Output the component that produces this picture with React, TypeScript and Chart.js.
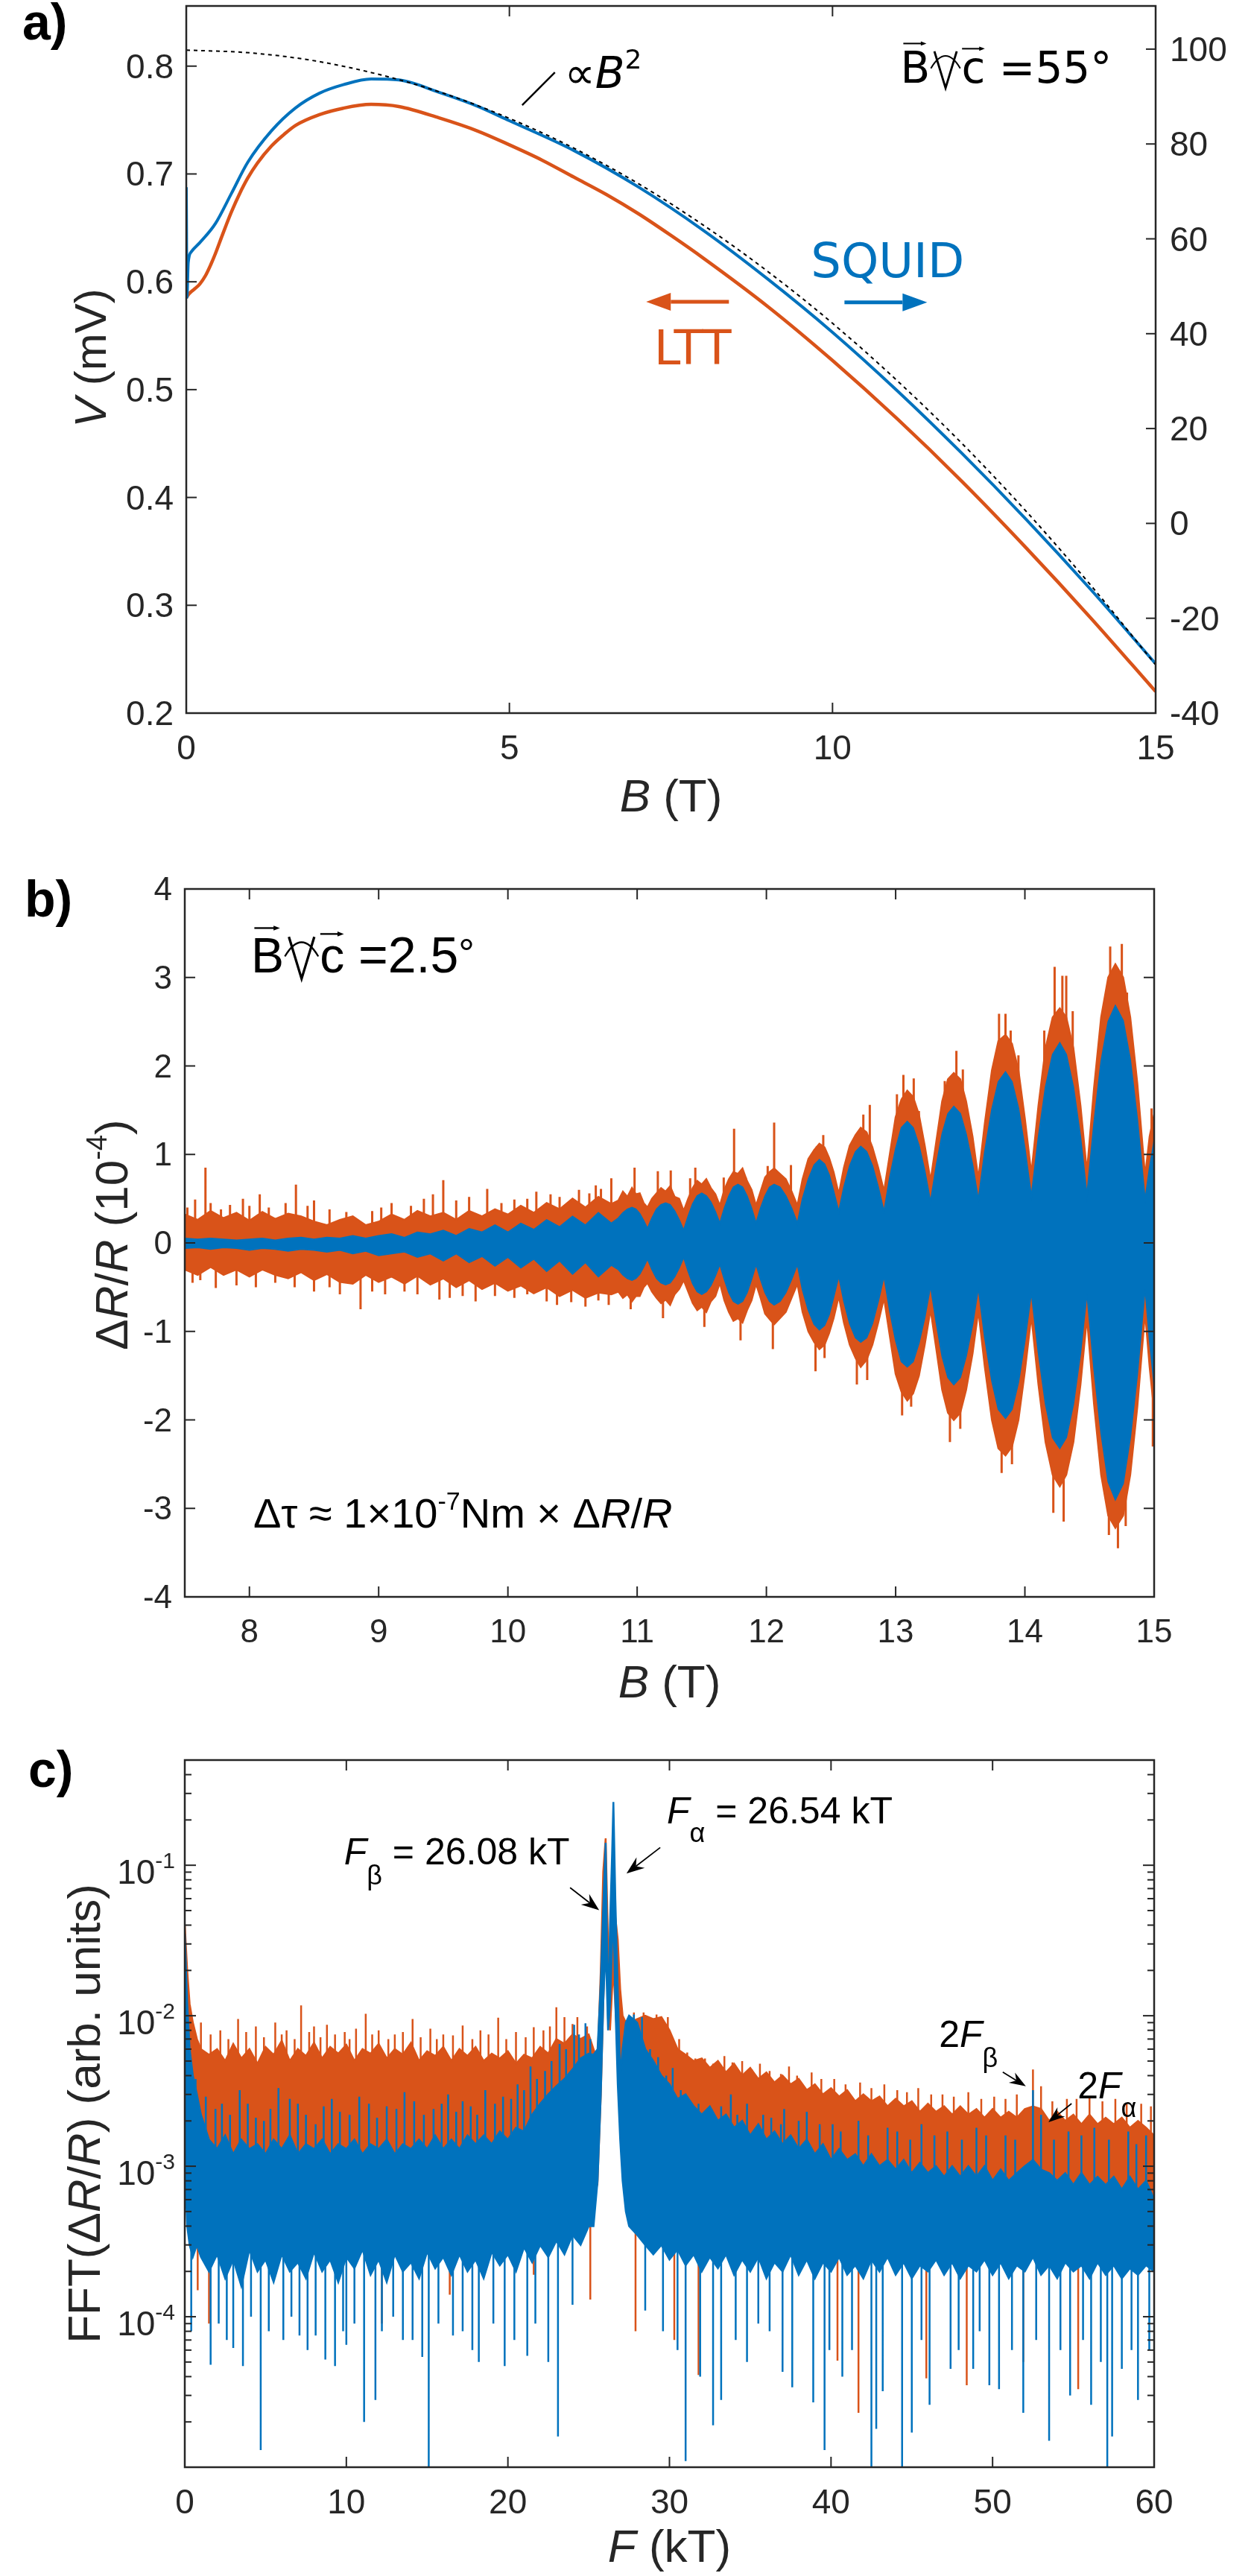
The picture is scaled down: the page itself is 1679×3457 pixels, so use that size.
import React, { useEffect, useRef } from 'react';
import { Chart, registerables } from 'chart.js';
Chart.register(...registerables);

const BLUE = '#0072BD';
const ORANGE = '#D95319';
const AXIS = '#262626';
const SANS = '"Liberation Sans", Arial, Helvetica, sans-serif';
const DEJAVU = '"DejaVu Sans", Verdana, sans-serif';
const W = 1679;

// ---------------- Panel a : V(B) ----------------
const aFieldSquid = [0, 0.01, 0.03, 0.08, 0.21, 0.45, 0.7, 0.95, 1.32, 1.69, 2.06, 2.43, 2.86, 3.29, 3.91, 4.5, 5, 6, 7, 8, 9, 10, 11, 12, 13, 14, 15];
const aSquid = [70.9, 47.7, 55.0, 57.3, 59.2, 63.2, 69.6, 76.1, 82.8, 87.6, 90.7, 92.5, 93.7, 93.5, 90.9, 88.0, 84.9, 78.6, 70.9, 61.8, 51.5, 40.3, 28.0, 14.8, 0.8, -14.0, -29.6];
const aFieldLtt = [0, 0.03, 0.08, 0.14, 0.21, 0.3, 0.38, 0.45, 0.55, 0.62, 0.7, 0.82, 0.95, 1.1, 1.32, 1.5, 1.69, 2.06, 2.43, 2.86, 3.29, 3.91, 4.5, 5, 5.5, 6, 6.5, 7, 7.5, 8, 9, 10, 11, 12, 13, 14, 15];
const aLtt = [0.585, 0.588, 0.591, 0.594, 0.598, 0.606, 0.616, 0.626, 0.642, 0.653, 0.665, 0.681, 0.696, 0.71, 0.726, 0.736, 0.745, 0.755, 0.761, 0.7645, 0.7625, 0.752, 0.74, 0.727, 0.713, 0.697, 0.681, 0.663, 0.643, 0.622, 0.577, 0.527, 0.473, 0.415, 0.353, 0.288, 0.22];
const aFieldFit = [0, 1, 2, 3, 4, 5, 6, 7, 8, 9, 10, 11, 12, 13, 14, 15];
const aFit = [99.8, 99.2, 97.5, 94.6, 90.6, 85.4, 79.1, 71.6, 62.9, 53.1, 42.2, 30.1, 16.9, 2.5, -13.1, -29.8];
const aXTicks = [0, 5, 10, 15];
const aYTicks = [0.2, 0.3, 0.4, 0.5, 0.6, 0.7, 0.8];
const aY2Ticks = [-40, -20, 0, 20, 40, 60, 80, 100];

// ---------------- Panel b : dR/R(B) ----------------
const bField = [7.5, 7.6, 7.7, 7.8, 7.9, 8.0, 8.1, 8.2, 8.3, 8.4, 8.5, 8.6, 8.7, 8.8, 8.9, 9.0, 9.1, 9.2, 9.3, 9.4, 9.5, 9.6, 9.7, 9.8, 9.9, 10.0, 10.1, 10.2, 10.3, 10.4, 10.5, 10.6, 10.7, 10.8,
  10.855, 10.89, 10.925, 10.96, 10.99, 11.02, 11.05, 11.08,
  11.115, 11.15, 11.185, 11.22, 11.255, 11.29, 11.325, 11.36,
  11.395, 11.43, 11.465, 11.5, 11.535, 11.57, 11.605, 11.64,
  11.675, 11.71, 11.745, 11.78, 11.815, 11.85, 11.885, 11.92,
  11.955, 11.99, 12.025, 12.06, 12.105, 12.15, 12.195, 12.24,
  12.28, 12.325, 12.37, 12.41, 12.45, 12.485, 12.52, 12.56,
  12.6, 12.645, 12.69, 12.73, 12.775, 12.82, 12.865, 12.91,
  12.955, 13.0, 13.045, 13.09, 13.135, 13.18, 13.225, 13.27,
  13.315, 13.36, 13.405, 13.45, 13.5, 13.545, 13.595, 13.64,
  13.69, 13.745, 13.795, 13.85, 13.9, 13.95, 14.0, 14.05,
  14.105, 14.16, 14.215, 14.27, 14.32, 14.375, 14.43, 14.48,
  14.535, 14.59, 14.645, 14.7, 14.76, 14.815, 14.87, 14.93,
  14.965, 15.0];
const bBlueTop = [0.05, 0.04, 0.05, 0.04, 0.03, 0.04, 0.05, 0.03, 0.05, 0.06, 0.04, 0.06, 0.05, 0.08, 0.05, 0.08, 0.1, 0.06, 0.12, 0.1, 0.14, 0.08, 0.16, 0.12, 0.2, 0.12, 0.22, 0.15, 0.26, 0.18, 0.3, 0.2, 0.34, 0.22,
  0.28, 0.34, 0.38, 0.40, 0.38, 0.33, 0.25, 0.16,
  0.28, 0.38, 0.43, 0.45, 0.43, 0.36, 0.26, 0.14,
  0.30, 0.44, 0.53, 0.56, 0.53, 0.46, 0.35, 0.22,
  0.39, 0.53, 0.63, 0.66, 0.63, 0.53, 0.39, 0.22,
  0.39, 0.53, 0.63, 0.66, 0.63, 0.53, 0.39, 0.22,
  0.50, 0.72, 0.88, 0.94, 0.89, 0.77, 0.58, 0.35,
  0.63, 0.87, 1.03, 1.09, 1.03, 0.87, 0.63, 0.35,
  0.74, 1.06, 1.30, 1.37, 1.30, 1.10, 0.81, 0.46,
  0.87, 1.23, 1.46, 1.54, 1.46, 1.23, 0.88, 0.48,
  1.03, 1.51, 1.82, 1.93, 1.82, 1.52, 1.06, 0.52,
  1.19, 1.76, 2.13, 2.26, 2.13, 1.76, 1.19, 0.53,
  1.35, 2.05, 2.50, 2.68, 2.51, 2.07, 1.39, 0.48,
  0.85, 1.15];
const bBlueBot = [-0.06, -0.05, -0.07, -0.05, -0.06, -0.08, -0.06, -0.07, -0.09, -0.07, -0.08, -0.1, -0.08, -0.12, -0.09, -0.14, -0.12, -0.1, -0.16, -0.12, -0.2, -0.12, -0.22, -0.15, -0.26, -0.16, -0.28, -0.18, -0.32, -0.2, -0.35, -0.22, -0.38, -0.25,
  -0.3, -0.36, -0.4, -0.42, -0.4, -0.35, -0.27, -0.18,
  -0.3, -0.4, -0.45, -0.47, -0.45, -0.38, -0.28, -0.16,
  -0.32, -0.46, -0.55, -0.58, -0.55, -0.48, -0.37, -0.24,
  -0.41, -0.56, -0.66, -0.69, -0.66, -0.56, -0.41, -0.24,
  -0.41, -0.56, -0.66, -0.7, -0.66, -0.56, -0.41, -0.24,
  -0.53, -0.76, -0.92, -0.98, -0.93, -0.81, -0.61, -0.37,
  -0.66, -0.91, -1.07, -1.12, -1.07, -0.91, -0.66, -0.37,
  -0.77, -1.1, -1.34, -1.4, -1.34, -1.13, -0.84, -0.48,
  -0.9, -1.28, -1.52, -1.6, -1.52, -1.28, -0.92, -0.5,
  -1.07, -1.56, -1.88, -1.98, -1.88, -1.57, -1.1, -0.55,
  -1.24, -1.82, -2.2, -2.32, -2.2, -1.82, -1.24, -0.56,
  -1.42, -2.15, -2.7, -2.9, -2.72, -2.2, -1.48, -0.5,
  -1.1, -1.6];
const bOrangeTop = [0.32, 0.26, 0.36, 0.28, 0.34, 0.25, 0.35, 0.27, 0.33, 0.3, 0.24, 0.2, 0.26, 0.3, 0.2, 0.24, 0.32, 0.26, 0.36, 0.3, 0.34, 0.26, 0.36, 0.3, 0.38, 0.32, 0.42, 0.34, 0.45, 0.38, 0.5, 0.4, 0.52, 0.44,
  0.48, 0.58, 0.52, 0.62, 0.55, 0.56, 0.45, 0.40,
  0.5, 0.56, 0.62, 0.58, 0.64, 0.52, 0.5, 0.36,
  0.5, 0.62, 0.7, 0.66, 0.72, 0.62, 0.55, 0.42,
  0.6, 0.72, 0.8, 0.78, 0.84, 0.7, 0.6, 0.42,
  0.58, 0.74, 0.8, 0.84, 0.78, 0.72, 0.58, 0.42,
  0.72, 0.95, 1.05, 1.12, 1.08, 0.96, 0.8, 0.55,
  0.85, 1.1, 1.22, 1.3, 1.25, 1.08, 0.85, 0.58,
  1.0, 1.42, 1.62, 1.72, 1.65, 1.45, 1.1, 0.7,
  1.15, 1.6, 1.85, 1.92, 1.85, 1.6, 1.2, 0.72,
  1.35, 1.95, 2.28, 2.35, 2.25, 1.95, 1.4, 0.78,
  1.55, 2.2, 2.55, 2.65, 2.55, 2.2, 1.55, 0.8,
  1.75, 2.55, 3.0, 3.15, 3.0, 2.55, 1.8, 0.75,
  1.2, 1.45];
const bOrangeBot = [-0.3, -0.36, -0.27, -0.36, -0.3, -0.38, -0.3, -0.36, -0.4, -0.33, -0.42, -0.35, -0.44, -0.46, -0.36, -0.44, -0.38, -0.46, -0.37, -0.47, -0.4, -0.5, -0.42, -0.52, -0.45, -0.54, -0.48, -0.57, -0.5, -0.6, -0.53, -0.62, -0.56, -0.58,
  -0.55, -0.62, -0.58, -0.66, -0.6, -0.6, -0.5, -0.45,
  -0.55, -0.62, -0.68, -0.64, -0.7, -0.58, -0.52, -0.42,
  -0.55, -0.68, -0.76, -0.72, -0.78, -0.66, -0.6, -0.45,
  -0.65, -0.78, -0.88, -0.85, -0.9, -0.76, -0.65, -0.46,
  -0.62, -0.8, -0.86, -0.92, -0.85, -0.78, -0.62, -0.46,
  -0.78, -1.0, -1.12, -1.2, -1.15, -1.02, -0.85, -0.6,
  -0.9, -1.15, -1.3, -1.4, -1.32, -1.15, -0.9, -0.62,
  -1.05, -1.48, -1.68, -1.78, -1.7, -1.5, -1.15, -0.75,
  -1.2, -1.66, -1.92, -2.0, -1.92, -1.66, -1.25, -0.76,
  -1.4, -2.0, -2.32, -2.4, -2.3, -2.0, -1.45, -0.82,
  -1.6, -2.25, -2.62, -2.75, -2.62, -2.25, -1.6, -0.84,
  -1.82, -2.62, -3.08, -3.22, -3.08, -2.62, -1.85, -0.78,
  -1.4, -1.9];
const bOrangeSpikesUp = [[7.52, 0.4], [7.58, 0.49], [7.66, 0.85], [7.7, 0.45], [7.78, 0.38], [7.85, 0.43], [7.95, 0.5], [8.0, 0.42], [8.08, 0.55], [8.15, 0.4], [8.28, 0.45], [8.36, 0.66], [8.45, 0.42], [8.5, 0.48], [8.62, 0.38], [8.75, 0.35], [8.95, 0.36], [9.02, 0.4], [9.1, 0.45], [9.25, 0.42], [9.35, 0.5], [9.42, 0.55], [9.5, 0.71], [9.6, 0.48], [9.7, 0.52], [9.84, 0.61], [9.95, 0.45], [10.05, 0.49], [10.15, 0.5], [10.22, 0.58], [10.33, 0.55], [10.4, 0.52], [10.55, 0.6], [10.63, 0.56], [10.68, 0.65], [10.72, 0.61], [10.8, 0.73], [10.98, 0.85], [11.16, 0.81], [11.26, 0.82], [11.41, 0.73], [11.45, 0.85], [11.67, 0.74], [11.75, 1.29], [11.84, 0.74], [12.01, 0.87], [12.06, 1.36], [12.19, 0.88], [12.39, 1.09], [12.44, 1.22], [12.75, 1.45], [12.8, 1.56], [13.01, 1.68], [13.06, 1.9], [13.14, 1.86], [13.18, 1.49], [13.38, 1.83], [13.47, 2.17], [13.52, 1.96], [13.74, 1.78], [13.8, 2.59], [13.85, 2.59], [13.89, 2.4], [13.95, 2.12], [14.15, 2.4], [14.23, 3.12], [14.29, 3.02], [14.32, 3.02], [14.37, 2.62], [14.6, 2.57], [14.66, 3.35], [14.75, 3.38], [14.79, 2.83], [14.98, 1.52]];
const bOrangeSpikesDown = [[7.56, -0.45], [7.62, -0.42], [7.74, -0.51], [7.9, -0.48], [8.05, -0.5], [8.2, -0.45], [8.35, -0.5], [8.5, -0.55], [8.62, -0.5], [8.7, -0.58], [8.86, -0.75], [8.95, -0.55], [9.05, -0.58], [9.2, -0.55], [9.3, -0.58], [9.47, -0.64], [9.55, -0.62], [9.65, -0.6], [9.75, -0.66], [9.9, -0.6], [10.05, -0.62], [10.15, -0.58], [10.3, -0.66], [10.38, -0.7], [10.49, -0.67], [10.6, -0.72], [10.7, -0.65], [10.78, -0.7], [10.95, -0.75], [11.2, -0.85], [11.52, -0.95], [11.8, -1.1], [12.05, -1.2], [12.38, -1.45], [12.45, -1.3], [12.7, -1.6], [12.78, -1.55], [13.05, -1.95], [13.12, -1.85], [13.42, -2.25], [13.5, -2.1], [13.82, -2.6], [13.9, -2.5], [14.22, -3.05], [14.3, -3.15], [14.65, -3.3], [14.72, -3.45], [14.78, -3.2], [14.99, -2.3]];
const bXTicks = [8, 9, 10, 11, 12, 13, 14, 15];
const bYTicks = [-4, -3, -2, -1, 0, 1, 2, 3, 4];

// ---------------- Panel c : FFT ----------------
const cFreq = [0, 0.15, 0.3, 0.5, 0.75, 1, 1.5, 2, 2.5, 3, 3.5, 4, 4.5, 5, 5.5, 6, 6.5, 7, 7.5, 8, 8.5, 9, 9.5, 10, 10.5, 11, 11.5, 12, 12.5, 13, 13.5, 14, 14.5, 15, 15.5, 16, 16.5, 17, 17.5, 18, 18.5, 19, 19.5, 20, 20.5, 21, 21.5, 22, 22.5, 23, 23.5, 24, 24.5, 25,
  25.3, 25.55, 25.75, 25.9, 26.05, 26.2, 26.32, 26.45, 26.53, 26.65, 26.8, 26.95, 27.1, 27.3, 27.5,
  28, 28.5, 29, 29.5, 30, 30.5, 31, 31.5, 32, 32.5, 33, 33.5, 34, 34.5, 35, 35.5, 36, 36.5, 37, 37.5, 38, 38.5, 39, 39.5, 40, 40.5, 41, 41.5, 42, 42.5, 43, 43.5, 44, 44.5, 45, 45.5, 46, 46.5, 47, 47.5, 48, 48.5, 49, 49.5, 50, 50.5, 51, 51.5, 52, 52.5, 53, 53.5, 54, 54.5, 55, 55.5, 56, 56.5, 57, 57.5, 58, 58.5, 59, 59.5, 60];
const cOrangeTop = [0.04, 0.02, 0.012, 0.009, 0.007, 0.006,
  5.5e-3, 6e-3, 5e-3, 6.5e-3, 5.2e-3, 6e-3, 4.8e-3, 6.2e-3, 5.5e-3, 6.8e-3,
  5e-3, 6e-3, 5.4e-3, 6.6e-3, 5.2e-3, 6.2e-3, 5.6e-3, 6.4e-3, 5e-3, 6e-3,
  5.6e-3, 6.5e-3, 5.2e-3, 6e-3, 5.5e-3, 6.6e-3, 5e-3, 5.8e-3, 5.4e-3, 6.2e-3,
  5e-3, 6e-3, 5.4e-3, 6.2e-3, 5e-3, 5.6e-3, 5.2e-3, 5.8e-3, 4.8e-3, 5.5e-3,
  5.2e-3, 6.2e-3, 5.6e-3, 7e-3, 6.5e-3, 7.5e-3, 7e-3, 7.5e-3,
  6e-3, 5e-3, 0.02, 0.09, 0.151, 0.03, 0.02, 0.05, 0.058, 0.045, 0.032, 0.015, 0.01, 0.009, 0.009,
  0.0095, 0.01, 0.0095, 0.0098, 0.008, 6e-3, 5.5e-3, 5e-3, 5.2e-3, 4.5e-3,
  5e-3, 4.2e-3, 4.8e-3, 4e-3, 4.5e-3, 3.8e-3, 4.2e-3, 3.6e-3, 4e-3, 3.5e-3,
  3.8e-3, 3.2e-3, 3.5e-3, 3e-3, 3.3e-3, 2.9e-3, 3.2e-3, 2.7e-3, 3e-3, 2.7e-3,
  2.9e-3, 2.5e-3, 2.8e-3, 2.5e-3, 2.7e-3, 2.3e-3, 2.6e-3, 2.3e-3, 2.5e-3, 2.2e-3,
  2.5e-3, 2.2e-3, 2.4e-3, 2.1e-3, 2.4e-3, 2.1e-3, 2.3e-3, 2.1e-3, 2.4e-3, 2.5e-3,
  2.4e-3, 2e-3, 2.3e-3, 2e-3, 2.2e-3, 1.9e-3, 2.2e-3, 1.9e-3, 2.1e-3, 1.9e-3,
  2.1e-3, 1.8e-3, 2e-3, 1.8e-3, 1.6e-3];
const cOrangeBot = [4e-3, 2e-3, 1.5e-3, 1.2e-3, 1e-3, 1.1e-3,
  1.2e-3, 9e-4, 1.3e-3, 1e-3, 1.4e-3, 9e-4, 1.2e-3, 1e-3, 1.3e-3, 8.5e-4,
  1.2e-3, 1e-3, 1.4e-3, 9e-4, 1.2e-3, 1.1e-3, 1.3e-3, 9e-4, 1.2e-3, 1e-3,
  1.3e-3, 9e-4, 1.2e-3, 1e-3, 1.4e-3, 9.5e-4, 1.2e-3, 1e-3, 1.3e-3, 9e-4,
  1.2e-3, 1e-3, 1.3e-3, 9e-4, 1.2e-3, 1e-3, 1.3e-3, 1e-3, 1.2e-3, 1e-3,
  1.4e-3, 1.2e-3, 1.5e-3, 1.3e-3, 1.6e-3, 1.4e-3, 1.5e-3, 1.2e-3,
  1e-3, 8e-4, 3e-3, 0.012, 0.04, 0.012, 0.008, 0.015, 0.02, 0.012, 0.006, 3e-3, 1.5e-3, 1.2e-3, 1.2e-3,
  1.3e-3, 1.2e-3, 1.1e-3, 1e-3, 9e-4, 8e-4, 7.5e-4, 7e-4, 7.5e-4, 6.5e-4,
  7e-4, 6e-4, 6.5e-4, 6e-4, 6.5e-4, 5.5e-4, 6e-4, 5.5e-4, 6e-4, 5.5e-4,
  6e-4, 5e-4, 5.5e-4, 5e-4, 5.5e-4, 5e-4, 5.5e-4, 4.8e-4, 5.2e-4, 4.8e-4,
  5.2e-4, 4.6e-4, 5e-4, 4.6e-4, 5e-4, 4.5e-4, 5e-4, 4.5e-4, 4.8e-4, 4.4e-4,
  4.8e-4, 4.4e-4, 4.8e-4, 4.4e-4, 4.6e-4, 4.2e-4, 4.6e-4, 4.2e-4, 4.6e-4, 4.2e-4,
  4.5e-4, 4e-4, 4.5e-4, 4e-4, 4.4e-4, 4e-4, 4.4e-4, 3.9e-4, 4.3e-4, 3.9e-4,
  4.2e-4, 3.8e-4, 4.2e-4, 3.8e-4, 4e-4];
const cBlueTop = [0.035, 0.012, 6e-3, 4e-3, 3e-3, 2.2e-3,
  1.5e-3, 1.3e-3, 1.6e-3, 1.2e-3, 1.5e-3, 1.3e-3, 1.4e-3, 1.2e-3, 1.5e-3, 1.3e-3,
  1.6e-3, 1.2e-3, 1.4e-3, 1.3e-3, 1.5e-3, 1.2e-3, 1.4e-3, 1.3e-3, 1.5e-3, 1.2e-3,
  1.4e-3, 1.3e-3, 1.5e-3, 1.2e-3, 1.4e-3, 1.3e-3, 1.5e-3, 1.3e-3, 1.6e-3, 1.3e-3,
  1.5e-3, 1.3e-3, 1.6e-3, 1.4e-3, 1.6e-3, 1.4e-3, 1.7e-3, 1.5e-3, 1.8e-3, 1.7e-3,
  2.2e-3, 2.6e-3, 3e-3, 3.4e-3, 3.8e-3, 4.4e-3, 5.2e-3, 5.6e-3,
  5.5e-3, 6e-3, 0.0166, 0.052, 0.141, 0.0095, 0.04, 0.12, 0.263, 0.06, 0.0148, 4e-3, 6e-3, 9e-3, 0.01,
  0.009, 6e-3, 5e-3, 4e-3, 3.5e-3, 2.8e-3, 3e-3, 2.5e-3, 2.2e-3, 2.5e-3,
  2e-3, 2.2e-3, 1.8e-3, 2e-3, 1.6e-3, 1.9e-3, 1.5e-3, 1.7e-3, 1.4e-3, 1.6e-3,
  1.3e-3, 1.5e-3, 1.2e-3, 1.4e-3, 1.1e-3, 1.3e-3, 1.1e-3, 1.2e-3, 1e-3, 1.2e-3,
  1e-3, 1.1e-3, 9.5e-4, 1.1e-3, 9e-4, 1.05e-3, 9e-4, 1e-3, 8.5e-4, 1e-3,
  8.5e-4, 1e-3, 8.5e-4, 1e-3, 8e-4, 9.5e-4, 8e-4, 9e-4, 1e-3, 1.1e-3,
  9.5e-4, 9e-4, 8e-4, 9e-4, 7.5e-4, 9e-4, 7.5e-4, 8.5e-4, 7.5e-4, 8.5e-4,
  7e-4, 8.5e-4, 7e-4, 8e-4, 6e-4];
const cBlueBot = [1e-3, 4e-4, 3e-4, 2.5e-4, 3e-4, 2.5e-4,
  2e-4, 2.6e-4, 1.8e-4, 2.4e-4, 1.6e-4, 2.8e-4, 2e-4, 2.4e-4, 1.7e-4, 2.6e-4,
  2e-4, 2.3e-4, 1.8e-4, 2.7e-4, 2e-4, 2.4e-4, 1.7e-4, 2.5e-4, 2.1e-4, 2.8e-4,
  1.9e-4, 2.4e-4, 1.7e-4, 2.6e-4, 2e-4, 2.3e-4, 1.8e-4, 2.7e-4, 2.1e-4, 2.5e-4,
  1.9e-4, 2.6e-4, 2e-4, 2.4e-4, 1.8e-4, 2.7e-4, 2.2e-4, 2.6e-4, 2e-4, 2.9e-4,
  2.3e-4, 3e-4, 2.5e-4, 3.2e-4, 2.6e-4, 3.5e-4, 3e-4, 4e-4,
  4e-4, 8e-4, 3e-3, 0.012, 0.03, 0.008, 0.012, 0.03, 0.05, 0.012, 3.5e-3, 1.5e-3, 8e-4, 5e-4, 4e-4,
  3.5e-4, 3e-4, 2.6e-4, 3e-4, 2.4e-4, 2.8e-4, 2.2e-4, 2.6e-4, 2e-4, 2.5e-4,
  2.1e-4, 2.6e-4, 1.9e-4, 2.4e-4, 2e-4, 2.5e-4, 1.8e-4, 2.3e-4, 2e-4, 2.6e-4,
  1.9e-4, 2.4e-4, 1.8e-4, 2.3e-4, 2e-4, 2.5e-4, 1.9e-4, 2.2e-4, 1.8e-4, 2.4e-4,
  2e-4, 2.5e-4, 1.9e-4, 2.3e-4, 1.8e-4, 2.2e-4, 2e-4, 2.4e-4, 1.9e-4, 2.3e-4,
  1.8e-4, 2.2e-4, 2e-4, 2.4e-4, 1.9e-4, 2.3e-4, 1.8e-4, 2.2e-4, 2e-4, 2.5e-4,
  1.9e-4, 2.2e-4, 1.8e-4, 2.3e-4, 2e-4, 2.2e-4, 1.8e-4, 2.3e-4, 1.9e-4, 2.2e-4,
  1.8e-4, 2.1e-4, 1.9e-4, 2.2e-4, 2e-4];
const cBlueSpikesUp = [[0.67, 3.8e-3], [1.3, 2.9e-3], [1.9, 2.4e-3], [2.3, 2.6e-3], [2.8, 2.2e-3], [3.4, 3.2e-3], [3.9, 2.6e-3], [4.4, 2.1e-3], [4.9, 2e-3], [5.3, 2.4e-3], [5.8, 3.3e-3], [6.5, 2.8e-3], [7.0, 2.6e-3], [7.5, 2.2e-3], [8.1, 1.9e-3], [8.6, 2.5e-3], [9.1, 2.8e-3], [9.6, 2.3e-3], [10.2, 2.2e-3], [10.8, 2.9e-3], [11.4, 2.6e-3], [11.9, 2.1e-3], [12.5, 2.5e-3], [13.1, 2.4e-3], [13.6, 3.1e-3], [14.2, 2.7e-3], [14.8, 2.2e-3], [15.4, 2.4e-3], [15.9, 2.6e-3], [16.3, 3e-3], [16.8, 2.3e-3], [17.2, 2.7e-3], [17.7, 2.5e-3], [18.1, 2.2e-3], [18.6, 3.2e-3], [19.2, 2.6e-3], [19.7, 2.9e-3], [20.2, 2.8e-3], [20.6, 3.5e-3], [21.0, 3.2e-3], [21.4, 4.6e-3], [21.8, 3.8e-3], [22.3, 4.3e-3], [22.7, 5e-3], [23.2, 6.5e-3], [23.6, 6e-3], [24.1, 8.7e-3], [24.4, 7.5e-3], [24.8, 8.9e-3], [25.1, 7e-3], [27.8, 0.0102], [28.3, 0.0098], [28.8, 6e-3], [29.3, 5.3e-3], [29.8, 4e-3], [30.2, 4.5e-3], [30.7, 3.2e-3], [31.3, 2.5e-3], [31.8, 2.6e-3], [32.6, 2.4e-3], [33.2, 2.5e-3], [33.8, 3e-3], [34.2, 2.2e-3], [34.8, 2.6e-3], [35.8, 2.2e-3], [36.3, 2.1e-3], [36.9, 1.9e-3], [37.1, 2.4e-3], [38.0, 2e-3], [38.5, 2.3e-3], [39.3, 1.9e-3], [40.1, 1.9e-3], [40.6, 1.7e-3], [41.7, 2e-3], [42.3, 1.6e-3], [43.5, 1.8e-3], [44.1, 1.7e-3], [44.9, 1.5e-3], [45.6, 1.9e-3], [46.4, 1.6e-3], [47.2, 1.7e-3], [48.1, 1.5e-3], [49.0, 1.8e-3], [49.6, 1.6e-3], [50.8, 1.6e-3], [51.4, 1.5e-3], [52.5, 3.2e-3], [53.0, 2.2e-3], [53.8, 1.5e-3], [54.7, 1.7e-3], [55.5, 1.6e-3], [56.3, 1.8e-3], [57.2, 1.5e-3], [58.4, 1.7e-3], [58.9, 1.4e-3], [59.5, 1.6e-3]];
const cBlueSpikesDown = [[0.4, 8e-5], [1.6, 4.8e-5], [2.1, 9e-5], [2.6, 7e-5], [3.0, 6.2e-5], [3.6, 4.7e-5], [4.1, 1e-4], [4.7, 1.3e-5], [5.2, 8e-5], [6.1, 7e-5], [6.6, 1e-4], [7.1, 7.5e-5], [7.6, 6e-5], [8.1, 7.5e-5], [8.7, 5.2e-5], [9.3, 4.7e-5], [9.8, 8e-5], [10.0, 6.5e-5], [10.5, 9e-5], [11.1, 2e-5], [11.8, 2.8e-5], [12.2, 8e-5], [12.9, 1e-4], [13.5, 7e-5], [14.1, 7e-5], [14.7, 5.4e-5], [15.1, 1e-5], [15.7, 9e-5], [16.6, 7.5e-5], [17.2, 8e-5], [17.8, 6e-5], [18.2, 5e-5], [19.1, 9e-5], [19.8, 4.7e-5], [20.4, 7e-5], [21.2, 5.5e-5], [21.7, 9e-5], [22.5, 5e-5], [23.1, 1.6e-5], [24.0, 1.2e-4], [28.5, 1.1e-4], [29.6, 8e-5], [30.5, 6e-5], [31.0, 1.1e-5], [31.9, 4e-5], [32.7, 1.9e-5], [33.2, 2.8e-5], [34.1, 7e-5], [34.8, 5e-5], [35.5, 9e-5], [36.2, 8e-5], [37.0, 4.3e-5], [37.6, 3.4e-5], [38.9, 2.7e-5], [39.6, 1.3e-5], [39.9, 6e-5], [40.7, 4e-5], [41.3, 6e-5], [42.5, 1e-5], [42.8, 1.8e-5], [43.2, 3.2e-5], [44.4, 1e-5], [45.0, 1.7e-5], [45.6, 7e-5], [46.1, 2.6e-5], [47.4, 4.5e-5], [47.9, 6e-5], [48.8, 4.5e-5], [49.2, 8e-5], [49.8, 3.5e-5], [50.4, 3.3e-5], [51.2, 6e-5], [51.9, 2.3e-5], [52.7, 7e-5], [53.5, 1.5e-5], [54.2, 6e-5], [54.8, 3e-5], [55.6, 7e-5], [56.1, 2.6e-5], [56.7, 5e-5], [57.1, 1e-5], [57.4, 1.6e-5], [58.0, 4.5e-5], [58.6, 6e-5], [59.0, 2.8e-5], [59.7, 6e-5]];
const cOrangeSpikesUp = [[1.0, 9e-3], [1.6, 7.5e-3], [2.2, 8e-3], [2.7, 7e-3], [3.3, 9.5e-3], [3.8, 7.8e-3], [4.4, 8.5e-3], [4.9, 7.2e-3], [5.6, 9e-3], [6.0, 7.5e-3], [6.3, 8e-3], [6.8, 7e-3], [7.2, 0.0117], [7.7, 7.8e-3], [8.0, 8.5e-3], [8.4, 7.2e-3], [8.8, 8.7e-3], [9.3, 7.5e-3], [9.9, 7.8e-3], [10.2, 7e-3], [10.6, 8.2e-3], [11.2, 0.0103], [11.6, 7.5e-3], [12.0, 8e-3], [12.6, 7e-3], [13.0, 7.5e-3], [13.5, 7.8e-3], [14.1, 9.5e-3], [14.6, 7.2e-3], [15.2, 8.2e-3], [15.6, 7e-3], [16.0, 7.5e-3], [16.6, 7.4e-3], [17.2, 8.6e-3], [17.8, 7e-3], [18.3, 8e-3], [18.8, 7.5e-3], [19.4, 9.7e-3], [19.9, 7e-3], [20.5, 7.8e-3], [21.1, 7.2e-3], [21.6, 8.4e-3], [22.2, 8e-3], [22.6, 8.5e-3], [23.0, 0.0114], [23.5, 9.8e-3], [24.0, 8.8e-3], [24.3, 9.8e-3], [24.9, 8.5e-3], [27.8, 0.0105], [28.4, 0.0105], [28.9, 9.5e-3], [29.2, 0.0102], [29.9, 0.0098], [30.6, 7e-3], [31.1, 5.7e-3], [31.6, 5.2e-3], [32.2, 5.2e-3], [32.7, 4.8e-3], [33.4, 5.4e-3], [33.9, 4.9e-3], [34.5, 5e-3], [35.1, 4.4e-3], [35.6, 4.8e-3], [36.2, 4.3e-3], [36.9, 4.1e-3], [37.4, 4.6e-3], [37.9, 4e-3], [38.8, 4.2e-3], [39.4, 3.8e-3], [40.2, 3.8e-3], [40.9, 3.5e-3], [41.8, 3.6e-3], [42.5, 3.3e-3], [43.3, 3.5e-3], [44.1, 3.2e-3], [44.7, 3.1e-3], [45.4, 3.3e-3], [46.2, 3e-3], [46.9, 3e-3], [47.6, 2.9e-3], [48.5, 3.1e-3], [49.3, 2.8e-3], [50.1, 2.9e-3], [50.8, 2.8e-3], [51.5, 3e-3], [52.5, 4.4e-3], [53.0, 3.4e-3], [53.7, 2.7e-3], [54.6, 2.8e-3], [55.2, 2.8e-3], [56.0, 2.9e-3], [56.8, 2.7e-3], [57.6, 2.8e-3], [58.3, 2.6e-3], [59.2, 2.6e-3], [59.8, 2.5e-3]];
const cOrangeSpikesDown = [[0.8, 1.5e-4], [1.5, 9e-5], [12.2, 9e-5], [16.4, 1.4e-4], [21.6, 1.9e-4], [25.1, 1.3e-4], [27.9, 8e-5], [30.3, 7e-5], [31.8, 4.1e-5], [40.4, 5.1e-5], [41.7, 2.3e-5], [45.9, 3.9e-5], [48.4, 3.5e-5], [51.9, 5e-5], [55.3, 3.3e-5]];
const cXTicks = [0, 10, 20, 30, 40, 50, 60];
const cYDecades = [-5, -4, -3, -2, -1];
const cYLabelled = [-4, -3, -2, -1];

// ---------------- helpers ----------------
type Seg = { t: string; it?: boolean; bold?: boolean; sc?: number; dy?: number };

function rich(ctx: any, segs: Seg[], x: number, y: number, size: number, family: string, color: string, align = 'left', rot = 0) {
  ctx.save();
  ctx.translate(x, y);
  if (rot) ctx.rotate(rot);
  const fonts = segs.map(s => `${s.it ? 'italic ' : ''}${s.bold ? 'bold ' : ''}${Math.round(size * (s.sc ?? 1))}px ${family}`);
  let w = 0;
  const ws = segs.map((s, i) => { ctx.font = fonts[i]; const m = ctx.measureText(s.t).width; w += m; return m; });
  let cx = align === 'left' ? 0 : align === 'center' ? -w / 2 : -w;
  ctx.fillStyle = color;
  ctx.textBaseline = 'alphabetic';
  ctx.textAlign = 'left';
  segs.forEach((s, i) => { ctx.font = fonts[i]; ctx.fillText(s.t, cx, (s.dy ?? 0) * size); cx += ws[i]; });
  ctx.restore();
  return w;
}

function seg(ctx: any, x1: number, y1: number, x2: number, y2: number) {
  ctx.beginPath(); ctx.moveTo(x1, y1); ctx.lineTo(x2, y2); ctx.stroke();
}

function arrow(ctx: any, x1: number, y1: number, x2: number, y2: number, color: string, lw: number, hl: number, hw: number, notch = 0) {
  const ang = Math.atan2(y2 - y1, x2 - x1);
  const c = Math.cos(ang), s = Math.sin(ang);
  const bx = x2 - hl * c, by = y2 - hl * s;
  ctx.save();
  ctx.strokeStyle = color; ctx.fillStyle = color; ctx.lineWidth = lw; ctx.lineCap = 'butt';
  seg(ctx, x1, y1, bx + notch * c, by + notch * s);
  ctx.beginPath();
  ctx.moveTo(x2, y2);
  ctx.lineTo(bx - hw * s, by + hw * c);
  ctx.lineTo(bx + notch * c, by + notch * s);
  ctx.lineTo(bx + hw * s, by - hw * c);
  ctx.closePath();
  ctx.fill();
  ctx.restore();
}

function vec(ctx: any, x1: number, x2: number, y: number, size: number) {
  ctx.save();
  ctx.strokeStyle = '#000'; ctx.fillStyle = '#000';
  ctx.lineWidth = size * 0.035;
  seg(ctx, x1, y, x2 - size * 0.06, y);
  ctx.beginPath();
  ctx.moveTo(x2, y);
  ctx.lineTo(x2 - size * 0.13, y - size * 0.05);
  ctx.lineTo(x2 - size * 0.13, y + size * 0.05);
  ctx.closePath(); ctx.fill();
  ctx.restore();
}

function angleSym(ctx: any, x: number, base: number, size: number, family: string) {
  ctx.save();
  ctx.fillStyle = '#000'; ctx.strokeStyle = '#000';
  ctx.font = `${size}px ${family}`;
  ctx.textBaseline = 'alphabetic'; ctx.textAlign = 'left';
  let cx = x;
  const wB = ctx.measureText('B').width;
  ctx.fillText('B', cx, base);
  vec(ctx, cx + wB * 0.1, cx + wB * 0.88, base - size * 0.9, size);
  cx += wB + size * 0.02;
  const capH = size * 0.72;
  const vw = size * 0.68;
  ctx.lineWidth = size * 0.05;
  ctx.beginPath();
  ctx.moveTo(cx + vw * 0.12, base - capH);
  ctx.lineTo(cx + vw * 0.5, base + size * 0.13);
  ctx.lineTo(cx + vw * 0.88, base - capH);
  ctx.stroke();
  ctx.lineWidth = size * 0.035;
  ctx.beginPath();
  ctx.moveTo(cx, base - capH * 0.45);
  ctx.quadraticCurveTo(cx + vw * 0.5, base - capH * 1.25, cx + vw, base - capH * 0.45);
  ctx.stroke();
  cx += vw + size * 0.03;
  const wc = ctx.measureText('c').width;
  ctx.fillText('c', cx, base);
  vec(ctx, cx + wc * 0.02, cx + wc * 0.98, base - size * 0.78, size);
  cx += wc;
  ctx.restore();
  return cx - x;
}

function frame(ctx: any, a: any) {
  ctx.save();
  ctx.strokeStyle = AXIS; ctx.lineWidth = 2.5;
  ctx.strokeRect(a.left, a.top, a.right - a.left, a.bottom - a.top);
  ctx.restore();
}

const pts = (xs: number[], ys: number[]) => xs.map((x, i) => ({ x, y: ys[i] }));
const spikes = (list: number[][], base: number) => list.flatMap(([x, tip]) => [{ x, y: base }, { x, y: tip }, { x, y: null }]);

const lineDs = (data: any, color: string, width: number, extra: any = {}) => ({
  data, borderColor: color, backgroundColor: color, borderWidth: width, pointRadius: 0, tension: 0, fill: false, spanGaps: false, ...extra,
});

const baseOptions = (pad: any, scales: any) => ({
  animation: false, responsive: false, maintainAspectRatio: false, devicePixelRatio: 1, events: [],
  layout: { padding: pad },
  plugins: { legend: { display: false }, tooltip: { enabled: false }, title: { display: false } },
  scales,
});

// ---------------- drawing for each panel ----------------
function drawA(ch: any) {
  const ctx = ch.ctx, a = ch.chartArea, xs = ch.scales.x, ys = ch.scales.y, y2 = ch.scales.y2;
  frame(ctx, a);
  ctx.save();
  ctx.strokeStyle = AXIS; ctx.lineWidth = 2;
  aXTicks.forEach(v => { const p = xs.getPixelForValue(v); seg(ctx, p, a.bottom, p, a.bottom - 14); seg(ctx, p, a.top, p, a.top + 14); });
  aYTicks.forEach(v => { const p = ys.getPixelForValue(v); seg(ctx, a.left, p, a.left + 14, p); });
  aY2Ticks.forEach(v => { const p = y2.getPixelForValue(v); seg(ctx, a.right, p, a.right - 13, p); });
  ctx.restore();
  aXTicks.forEach(v => rich(ctx, [{ t: String(v) }], xs.getPixelForValue(v), a.bottom + 62, 46, SANS, AXIS, 'center'));
  aYTicks.forEach(v => rich(ctx, [{ t: String(v) }], a.left - 17, ys.getPixelForValue(v) + 16, 46, SANS, AXIS, 'right'));
  aY2Ticks.forEach(v => rich(ctx, [{ t: String(v) }], a.right + 19, y2.getPixelForValue(v) + 16, 46, SANS, AXIS, 'left'));
  rich(ctx, [{ t: 'V', it: true }, { t: ' (mV)' }], 142, (a.top + a.bottom) / 2 - 2, 60, SANS, AXIS, 'center', -Math.PI / 2);
  rich(ctx, [{ t: 'B', it: true }, { t: ' (T)' }], (a.left + a.right) / 2, a.bottom + 132, 62, SANS, AXIS, 'center');
  rich(ctx, [{ t: 'a)', bold: true }], 30, 53, 68, SANS, '#000');
  const X = (v: number) => xs.getPixelForValue(v), Y = (v: number) => ys.getPixelForValue(v);
  ctx.save(); ctx.strokeStyle = '#000'; ctx.lineWidth = 2.5;
  seg(ctx, X(5.198), Y(0.7638), X(5.704), Y(0.7942));
  ctx.restore();
  rich(ctx, [{ t: '∝' }, { t: 'B', it: true }, { t: '2', sc: 0.62, dy: -0.45 }], X(5.85), Y(0.7798), 58, DEJAVU, '#000');
  const w = angleSym(ctx, X(11.05), Y(0.7849), 58, DEJAVU);
  rich(ctx, [{ t: ' =55°' }], X(11.05) + w, Y(0.7849), 58, DEJAVU, '#000');
  rich(ctx, [{ t: 'SQUID' }], X(9.665), Y(0.6043), 64, DEJAVU, BLUE);
  arrow(ctx, X(10.185), Y(0.581), X(11.465), Y(0.581), BLUE, 5, 33, 12);
  rich(ctx, [{ t: 'LTT' }], X(7.238), Y(0.5234), 64, DEJAVU, ORANGE);
  arrow(ctx, X(8.397), Y(0.5815), X(7.117), Y(0.5815), ORANGE, 5, 33, 12);
}

function drawB(ch: any) {
  const ctx = ch.ctx, a = ch.chartArea, xs = ch.scales.x, ys = ch.scales.y;
  frame(ctx, a);
  ctx.save();
  ctx.strokeStyle = AXIS; ctx.lineWidth = 2;
  bXTicks.forEach(v => { const p = xs.getPixelForValue(v); seg(ctx, p, a.bottom, p, a.bottom - 14); seg(ctx, p, a.top, p, a.top + 14); });
  bYTicks.forEach(v => { const p = ys.getPixelForValue(v); seg(ctx, a.left, p, a.left + 14, p); seg(ctx, a.right, p, a.right - 14, p); });
  ctx.restore();
  bXTicks.forEach(v => rich(ctx, [{ t: String(v) }], xs.getPixelForValue(v), a.bottom + 61, 44, SANS, AXIS, 'center'));
  bYTicks.forEach(v => rich(ctx, [{ t: String(v) }], a.left - 17, ys.getPixelForValue(v) + 15, 44, SANS, AXIS, 'right'));
  rich(ctx, [{ t: 'Δ' }, { t: 'R', it: true }, { t: '/' }, { t: 'R', it: true }, { t: ' (10' }, { t: '-4', sc: 0.62, dy: -0.45 }, { t: ')' }],
    171, (a.top + a.bottom) / 2 - 11, 62, SANS, AXIS, 'center', -Math.PI / 2);
  rich(ctx, [{ t: 'B', it: true }, { t: ' (T)' }], (a.left + a.right) / 2, a.bottom + 135, 62, SANS, AXIS, 'center');
  rich(ctx, [{ t: 'b)', bold: true }], 33, 110, 68, SANS, '#000');
  const X = (v: number) => xs.getPixelForValue(v), Y = (v: number) => ys.getPixelForValue(v);
  const w = angleSym(ctx, X(8.013), Y(3.058), 66, SANS);
  rich(ctx, [{ t: ' =2.5' }, { t: '°', sc: 0.8, dy: -0.1 }], X(8.013) + w, Y(3.058), 68, SANS, '#000');
  rich(ctx, [{ t: 'Δτ ≈ 1×10' }, { t: '-7', sc: 0.6, dy: -0.42 }, { t: 'Nm × Δ' }, { t: 'R', it: true }, { t: '/' }, { t: 'R', it: true }],
    X(8.03), Y(-3.214), 56, SANS, '#000');
}

function drawC(ch: any) {
  const ctx = ch.ctx, a = ch.chartArea, xs = ch.scales.x, ys = ch.scales.y;
  frame(ctx, a);
  ctx.save();
  ctx.strokeStyle = AXIS; ctx.lineWidth = 2;
  cXTicks.forEach(v => { const p = xs.getPixelForValue(v); seg(ctx, p, a.bottom, p, a.bottom - 14); seg(ctx, p, a.top, p, a.top + 14); });
  cYDecades.forEach(d => {
    for (let m = 1; m <= 9; m++) {
      const v = m * Math.pow(10, d);
      if (v > 0.5) break;
      const p = ys.getPixelForValue(v);
      const len = m === 1 ? 15 : 9;
      seg(ctx, a.left, p, a.left + len, p); seg(ctx, a.right, p, a.right - len, p);
    }
  });
  ctx.restore();
  cXTicks.forEach(v => rich(ctx, [{ t: String(v) }], xs.getPixelForValue(v), a.bottom + 62, 46, SANS, AXIS, 'center'));
  cYLabelled.forEach(d => rich(ctx, [{ t: '10' }, { t: String(d), sc: 0.65, dy: -0.45 }], a.left - 13, ys.getPixelForValue(Math.pow(10, d)) + 25, 46, SANS, AXIS, 'right'));
  rich(ctx, [{ t: 'FFT(Δ' }, { t: 'R', it: true }, { t: '/' }, { t: 'R', it: true }, { t: ') (arb. units)' }],
    134, (a.top + a.bottom) / 2, 62, SANS, AXIS, 'center', -Math.PI / 2);
  rich(ctx, [{ t: 'F', it: true }, { t: ' (kT)' }], (a.left + a.right) / 2, a.bottom + 127, 62, SANS, AXIS, 'center');
  rich(ctx, [{ t: 'c)', bold: true }], 38, 98, 68, SANS, '#000');
  const X = (v: number) => xs.getPixelForValue(v), Y = (v: number) => ys.getPixelForValue(v);
  rich(ctx, [{ t: 'F', it: true }, { t: 'β', sc: 0.72, dy: 0.55 }, { t: ' = 26.08 kT' }], X(9.857), Y(0.1014), 50, SANS, '#000');
  rich(ctx, [{ t: 'F', it: true }, { t: 'α', sc: 0.72, dy: 0.5 }, { t: ' = 26.54 kT' }], X(29.84), Y(0.1903), 50, SANS, '#000');
  rich(ctx, [{ t: '2' }, { t: 'F', it: true }, { t: 'β', sc: 0.72, dy: 0.55 }], X(46.68), Y(6.22e-3), 50, SANS, '#000');
  rich(ctx, [{ t: '2' }, { t: 'F', it: true }, { t: 'α', sc: 0.72, dy: 0.5 }], X(55.26), Y(2.81e-3), 50, SANS, '#000');
  arrow(ctx, X(23.85), Y(0.0710), X(25.65), Y(0.0502), '#000', 1.8, 24, 9, 8);
  arrow(ctx, X(29.43), Y(0.1312), X(27.34), Y(0.0881), '#000', 1.8, 24, 9, 8);
  arrow(ctx, X(50.63), Y(4.22e-3), X(52.06), Y(3.40e-3), '#000', 1.8, 22, 8, 7);
  arrow(ctx, X(54.89), Y(2.61e-3), X(53.46), Y(1.96e-3), '#000', 1.8, 22, 8, 7);
}

const decor = (id: string, fn: (c: any) => void) => ({ id, afterDraw: (c: any) => fn(c) });

// ---------------- chart configs ----------------
function configA(): any {
  return {
    type: 'line',
    data: {
      datasets: [
        lineDs(pts(aFieldFit, aFit), '#000', 2, { yAxisID: 'y2', borderDash: [5, 5], cubicInterpolationMode: 'monotone' }),
        lineDs(pts(aFieldSquid, aSquid), BLUE, 4, { yAxisID: 'y2', cubicInterpolationMode: 'monotone' }),
        lineDs(pts(aFieldLtt, aLtt), ORANGE, 4.5, { yAxisID: 'y', cubicInterpolationMode: 'monotone' }),
      ],
    },
    options: baseOptions({ left: 250, right: W - 1551, top: 8, bottom: 1120 - 957 }, {
      x: { type: 'linear', min: 0, max: 15, display: false },
      y: { type: 'linear', min: 0.2, max: 0.8558, display: false },
      y2: { type: 'linear', position: 'right', min: -40, max: 109.1, display: false },
    }),
    plugins: [decor('decorA', drawA)],
  };
}

function configB(): any {
  return {
    type: 'line',
    data: {
      datasets: [
        lineDs(pts(bField, bBlueTop), BLUE, 2, { fill: '+1' }),
        lineDs(pts(bField, bBlueBot), BLUE, 2),
        lineDs(pts(bField, bOrangeTop), ORANGE, 2.5, { fill: '+1' }),
        lineDs(pts(bField, bOrangeBot), ORANGE, 2.5),
        lineDs(spikes(bOrangeSpikesUp, 0), ORANGE, 3),
        lineDs(spikes(bOrangeSpikesDown, 0), ORANGE, 3),
      ],
    },
    options: baseOptions({ left: 248, right: W - 1549, top: 73, bottom: 157 }, {
      x: { type: 'linear', min: 7.5, max: 15, display: false },
      y: { type: 'linear', min: -4, max: 4, display: false },
    }),
    plugins: [decor('decorB', drawB)],
  };
}

function configC(): any {
  return {
    type: 'line',
    data: {
      datasets: [
        lineDs(pts(cFreq, cBlueTop), BLUE, 2.5, { fill: '+1' }),
        lineDs(pts(cFreq, cBlueBot), BLUE, 2.5),
        lineDs(spikes(cBlueSpikesUp, 5e-4), BLUE, 2.5),
        lineDs(spikes(cBlueSpikesDown, 5e-4), BLUE, 2.5),
        lineDs(pts(cFreq, cOrangeTop), ORANGE, 2.5, { fill: '+1' }),
        lineDs(pts(cFreq, cOrangeBot), ORANGE, 2.5),
        lineDs(spikes(cOrangeSpikesUp, 1.2e-3), ORANGE, 2.5),
        lineDs(spikes(cOrangeSpikesDown, 1e-3), ORANGE, 2.5),
      ],
    },
    options: baseOptions({ left: 248, right: W - 1549, top: 62, bottom: 146 }, {
      x: { type: 'linear', min: 0, max: 60, display: false },
      y: { type: 'logarithmic', min: 1e-5, max: 0.5, display: false },
    }),
    plugins: [decor('decorC', drawC)],
  };
}

function Panel({ top, height, make }: { top: number; height: number; make: () => any }) {
  const ref = useRef<HTMLCanvasElement>(null);
  useEffect(() => {
    const chart = new Chart(ref.current as HTMLCanvasElement, make());
    return () => chart.destroy();
  }, []);
  return <canvas ref={ref} width={W} height={height} style={{ position: 'absolute', left: 0, top, width: W, height, display: 'block' }} />;
}

export default function App() {
  return (
    <div style={{ position: 'absolute', left: 0, top: 0, width: W, height: 3457, background: '#fff', overflow: 'hidden' }}>
      <Panel top={0} height={1120} make={configA} />
      <Panel top={1120} height={1180} make={configB} />
      <Panel top={2300} height={1157} make={configC} />
    </div>
  );
}
